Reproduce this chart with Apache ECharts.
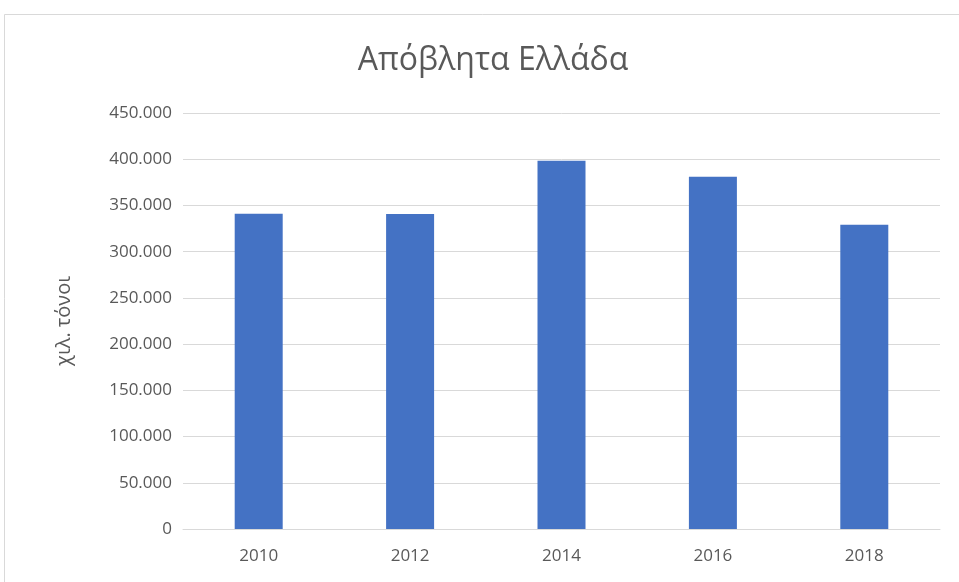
<!DOCTYPE html>
<html>
<head>
<meta charset="utf-8">
<script src="https://cdn.jsdelivr.net/npm/echarts@6/dist/echarts.min.js"></script>
<style>
  html, body { margin: 0; padding: 0; background: #fff; }
  #chart { width: 959px; height: 582px; }
</style>
</head>
<body>
<div id="chart"></div>
<script>
// Waste generated in Greece, thousand tonnes
const years = ['2010', '2012', '2014', '2016', '2018'];
const waste = [341000, 340800, 398300, 381000, 329000];
const yTicks = { min: 0, max: 450000, interval: 50000 };

const fmt = v => v === 0 ? '0' : String(v).replace(/\B(?=(\d{3})+(?!\d))/g, '.');
const fontFamily = '"Open Sans", "Noto Sans", sans-serif';
const textColor = '#595959';

const chart = echarts.init(document.getElementById('chart'));
chart.setOption({
  animation: false,
  backgroundColor: '#fff',
  textStyle: { fontFamily },
  graphic: [{
    type: 'rect',
    shape: { x: 4.5, y: 14.5, width: 1000, height: 1000 },
    style: { fill: 'none', stroke: '#d9d9d9', lineWidth: 1 },
    silent: true
  }],
  title: {
    text: 'Απόβλητα Ελλάδα',
    left: 488,
    textAlign: 'center',
    top: 40,
    textStyle: { fontFamily, fontSize: 32, fontWeight: 'normal', color: textColor }
  },
  grid: { left: 183, right: 19, top: 113, bottom: 53 },
  xAxis: {
    type: 'category',
    data: years,
    axisLine: { lineStyle: { color: '#d9d9d9' } },
    axisTick: { show: false },
    axisLabel: { color: textColor, fontSize: 17, margin: 19, fontFamily }
  },
  yAxis: {
    type: 'value',
    min: yTicks.min, max: yTicks.max, interval: yTicks.interval,
    name: 'χιλ. τόνοι',
    nameLocation: 'middle',
    nameRotate: 90,
    nameGap: 109,
    nameTextStyle: { color: textColor, fontSize: 20, fontFamily },
    axisLine: { show: false },
    axisTick: { show: false },
    axisLabel: { color: textColor, fontSize: 17, margin: 11, formatter: fmt, fontFamily },
    splitLine: { lineStyle: { color: '#d9d9d9' } }
  },
  series: [{
    type: 'bar',
    data: waste,
    barWidth: 48,
    itemStyle: { color: '#4472c4' }
  }]
});
</script>
</body>
</html>
